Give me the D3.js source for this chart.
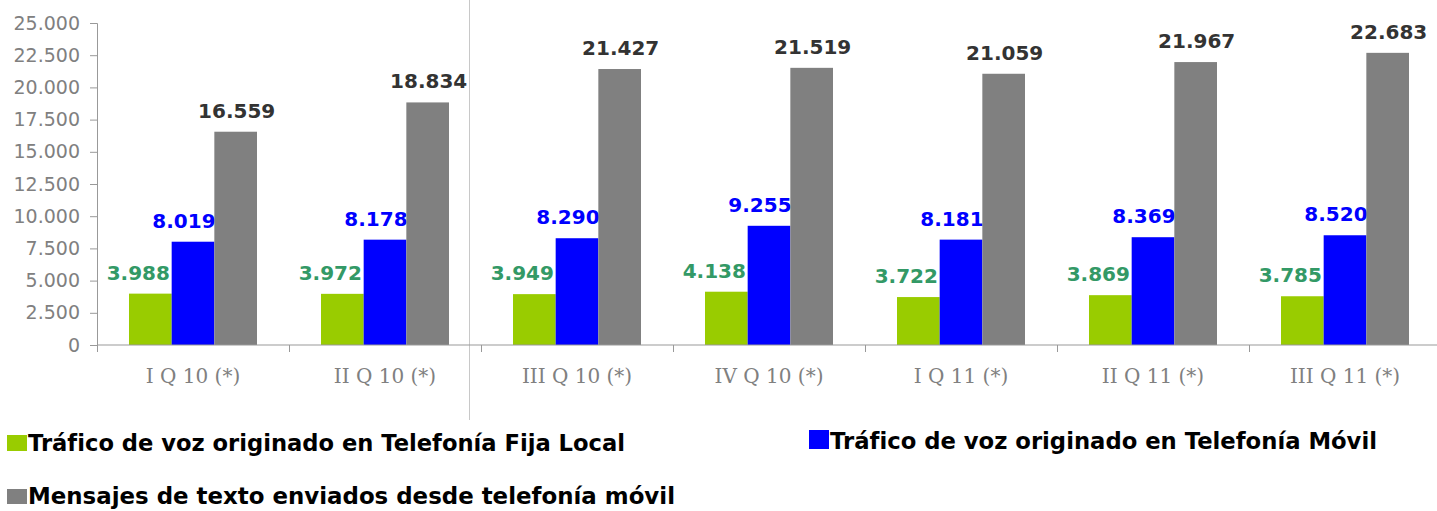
<!DOCTYPE html>
<html lang="es">
  <head>
    <meta charset="UTF-8" />
    <title>Tráfico de voz y mensajes</title>
    <style>
      body { margin: 0; background: #fff; }
      svg { display: block; }
    </style>
  </head>
  <body>
    <svg width="1437" height="511"></svg>
    <script src="https://cdn.jsdelivr.net/npm/d3@7"></script>
    <script>
      var categories = ["I Q 10 (*)", "II Q 10 (*)", "III Q 10 (*)", "IV Q 10 (*)", "I Q 11 (*)", "II Q 11 (*)", "III Q 11 (*)"];
      var fijaLocal = [3988, 3972, 3949, 4138, 3722, 3869, 3785];
      var movil = [8019, 8178, 8290, 9255, 8181, 8369, 8520];
      var mensajes = [16559, 18834, 21427, 21519, 21059, 21967, 22683];
      var seriesNames = [
        "Tráfico de voz originado en Telefonía Fija Local",
        "Tráfico de voz originado en Telefonía Móvil",
        "Mensajes de texto enviados desde telefonía móvil"
      ];
      var yTicks = [0, 2500, 5000, 7500, 10000, 12500, 15000, 17500, 20000, 22500, 25000];

      var series = [
        { name: seriesNames[0], values: fijaLocal, fill: "#99cc00", label: "#339966", dx: -12 },
        { name: seriesNames[1], values: movil, fill: "#0000ff", label: "#0000ff", dx: -9 },
        { name: seriesNames[2], values: mensajes, fill: "#808080", label: "#333333", dx: 1 }
      ];

      var es = d3.formatLocale({ decimal: ",", thousands: ".", grouping: [3], currency: ["", " €"] });
      var fmt = es.format(",d");

      var svg = d3.select("svg");

      // separador vertical claro
      svg.append("line")
        .attr("x1", 469.5).attr("x2", 469.5)
        .attr("y1", 0).attr("y2", 420)
        .attr("stroke", "#c8c8c8").attr("stroke-width", 1);

      var x0 = d3.scaleBand().domain(categories).range([97, 1441])
        .paddingInner(1 / 3).paddingOuter(1 / 6);
      var x1 = d3.scaleBand().domain(d3.range(series.length)).range([0, x0.bandwidth()]);
      var y = d3.scaleLinear().domain([0, 25000]).range([345, 23]);

      // eje Y
      var yAxis = svg.append("g")
        .attr("transform", "translate(97,0)")
        .call(d3.axisLeft(y).tickValues(yTicks).tickSize(7).tickPadding(10).tickFormat(fmt));
      yAxis.select(".domain").attr("stroke", "#999999");
      yAxis.selectAll(".tick line").attr("stroke", "#999999");
      yAxis.selectAll(".tick text")
        .attr("fill", "#808080")
        .style("font-family", "'DejaVu Sans', Verdana, sans-serif")
        .style("font-size", "19px");

      // barras
      series.forEach(function(s, si) {
        var g = svg.append("g");
        g.selectAll("rect").data(s.values).enter().append("rect")
          .attr("x", function(d, i) { return x0(categories[i]) + x1(si); })
          .attr("y", function(d) { return y(d); })
          .attr("width", x1.bandwidth())
          .attr("height", function(d) { return y(0) - y(d); })
          .attr("fill", s.fill);
        g.selectAll("text").data(s.values).enter().append("text")
          .attr("x", function(d, i) { return x0(categories[i]) + x1(si) + x1.bandwidth() / 2 + s.dx; })
          .attr("y", function(d) { return y(d) - 14; })
          .attr("text-anchor", "middle")
          .attr("fill", s.label)
          .style("font-family", "'DejaVu Sans', Verdana, sans-serif")
          .style("font-weight", "bold")
          .style("font-size", "20px")
          .text(function(d) { return fmt(d); });
      });

      // eje X
      var xAxis = svg.append("g")
        .attr("transform", "translate(0,345)");
      xAxis.append("line")
        .attr("x1", 97).attr("x2", 1437)
        .attr("stroke", "#999999");
      var bounds = categories.map(function(c) { return x0(c) - x0.step() * x0.paddingInner() / 2; });
      xAxis.selectAll(".tk").data(bounds).enter().append("line")
        .attr("class", "tk")
        .attr("x1", function(d) { return Math.round(d) + 0.5; })
        .attr("x2", function(d) { return Math.round(d) + 0.5; })
        .attr("y1", 0).attr("y2", 7)
        .attr("stroke", "#999999");
      xAxis.selectAll(".lbl").data(categories).enter().append("text")
        .attr("class", "lbl")
        .attr("x", function(d) { return x0(d) + x0.bandwidth() / 2; })
        .attr("y", 38)
        .attr("text-anchor", "middle")
        .attr("fill", "#808080")
        .style("font-family", "'DejaVu Serif', Cambria, serif")
        .style("font-size", "20px")
        .text(function(d) { return d; });

      // leyenda
      var legendPos = [
        { x: 7, y: 435, h: 16, w: 597 },
        { x: 809, y: 430, h: 19, w: 547 },
        { x: 7, y: 489, h: 15, w: 647 }
      ];
      series.forEach(function(s, i) {
        var p = legendPos[i];
        var g = svg.append("g");
        g.append("rect")
          .attr("x", p.x).attr("y", p.y)
          .attr("width", 20).attr("height", p.h)
          .attr("fill", s.fill);
        g.append("text")
          .attr("x", p.x + 21)
          .attr("y", p.y + p.h)
          .attr("fill", "#000")
          .attr("textLength", p.w)
          .attr("lengthAdjust", "spacingAndGlyphs")
          .style("font-family", "'DejaVu Sans', Verdana, sans-serif")
          .style("font-weight", "bold")
          .style("font-size", "23px")
          .text(s.name);
      });
    </script>
  </body>
</html>
